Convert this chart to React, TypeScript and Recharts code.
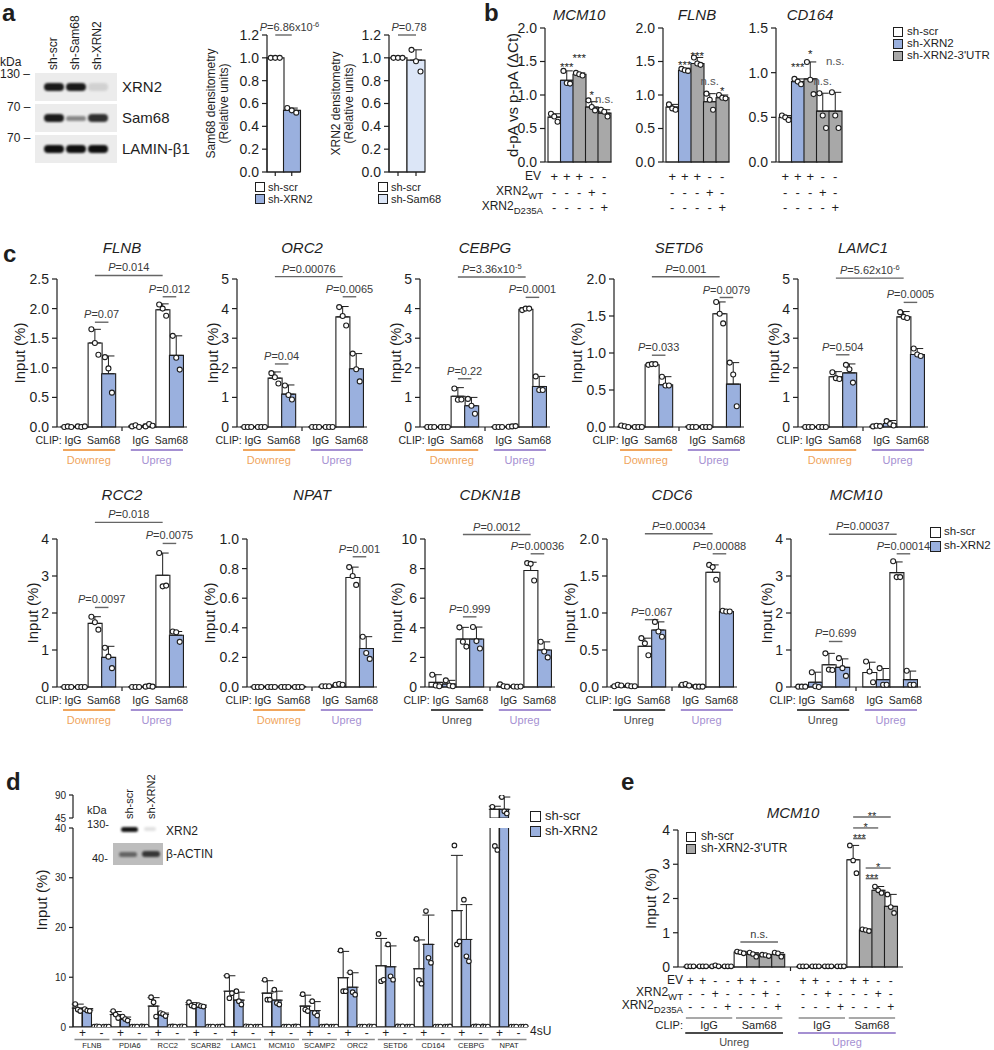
import React from 'react'
import { ComposedChart, Bar, Line, XAxis, YAxis, ErrorBar, Cell, ReferenceLine } from 'recharts'

const FONT = '"Liberation Sans", Arial, Helvetica, sans-serif'
const INK = '#1e1e1e'
const WHITE = '#ffffff'
const BLUE = '#9ab0de'
const PALE = '#dce6f7'
const GRAY = '#a8a8a8'
const ORANGE = '#f0a55c'
const PURPLE = '#a590d2'
const UNREG = '#4a4a4a'

type Num = number | null
type Ann = { a: number; b: number; y: number; t: string; dx?: number }

// ---------------- panel a ----------------
const aKeys = ['scr', 'kd']
const aTicks = [0, 0.2, 0.4, 0.6, 0.8, 1.0, 1.2]
const aSam68Mean = [1.0, 0.54]
const aSam68Cap: Num[] = [null, 0.56]
const aSam68Pts = [[1.0, 1.0, 1.0], [0.56, 0.54, 0.52]]
const aXrn2Mean = [1.0, 0.98]
const aXrn2Cap: Num[] = [null, 1.07]
const aXrn2Pts = [[1.0, 1.0, 1.0], [1.07, 0.97, 0.88]]
const blotLanes = ['sh-scr', 'sh-Sam68', 'sh-XRN2']
const blotRows = ['XRN2', 'Sam68', 'LAMIN-β1']
const blotDensity = [[0.95, 0.95, 0.12], [0.95, 0.45, 0.85], [1, 1, 1]]

// ---------------- panel b ----------------
const bKeys = ['scr', 'kd', 'utr', 'wt', 'mut']
const bFills = [WHITE, BLUE, GRAY, GRAY, GRAY]
const bEV = ['+', '+', '+', '-', '-']
const bWT = ['-', '-', '-', '+', '-']
const bMut = ['-', '-', '-', '-', '+']
const bMcm10Mean = [0.67, 1.22, 1.31, 0.82, 0.73]
const bMcm10Cap: Num[] = [0.72, 1.36, 1.33, 0.9, 0.78]
const bMcm10Pts = [[0.72, 0.68, 0.6], [1.36, 1.18, 1.17], [1.33, 1.31, 1.29], [0.92, 0.82, 0.77], [0.78, 0.75, 0.68]]
const bMcm10StarY: Num[] = [null, 1.47, 1.6, 1.04, 0.92]
const bMcm10Star = ['', '***', '***', '*', 'n.s.']
const bFlnbMean = [0.82, 1.37, 1.47, 0.9, 0.96]
const bFlnbCap: Num[] = [0.86, 1.4, 1.56, 1.02, 1.0]
const bFlnbPts = [[0.86, 0.8, 0.78], [1.39, 1.37, 1.36], [1.56, 1.47, 1.45], [1.02, 0.93, 0.78], [1.0, 0.96, 0.95]]
const bFlnbStarY: Num[] = [null, 1.5, 1.63, 1.2, 1.1]
const bFlnbStar = ['', '***', '***', 'n.s.', '*']
const bCd164Mean = [0.5, 0.9, 0.93, 0.57, 0.57]
const bCd164Cap: Num[] = [0.52, 0.93, 1.12, 0.77, 0.78]
const bCd164Pts = [[0.52, 0.5, 0.47], [0.93, 0.9, 0.87], [1.12, 0.92, 0.76], [0.77, 0.52, 0.38], [0.78, 0.52, 0.38]]
const bCd164StarY: Num[] = [null, 1.1, 1.24, 0.9, 1.12]
const bCd164Star = ['', '***', '*', 'n.s.', 'n.s.']

// ---------------- panel c ----------------
const cKeys = ['ig1s', 'ig1x', 'sm1s', 'sm1x', 'gap', 'ig2s', 'ig2x', 'sm2s', 'sm2x']
const cFills = [WHITE, BLUE, WHITE, BLUE, WHITE, WHITE, BLUE, WHITE, BLUE]
const Z = [0, 0, 0]

const cFlnbMean: Num[] = [0.01, 0.01, 1.42, 0.9, null, 0.02, 0.03, 1.98, 1.21]
const cFlnbCap: Num[] = [null, null, 1.65, 1.2, null, null, 0.05, 2.08, 1.54]
const cFlnbPts = [[0, 0.01, 0], [0.01, 0, 0.01], [1.65, 1.42, 1.22], [1.18, 0.99, 0.58], null, [0.01, 0.03, 0], [0.01, 0.05, 0.02], [2.07, 2.0, 1.88], [1.54, 1.17, 0.97]]
const cFlnbAnn: Ann[] = [{ a: 2, b: 7, y: 2.56, t: 'P=0.014' }, { a: 2, b: 3, y: 1.77, t: 'P=0.07' }, { a: 7, b: 8, y: 2.2, t: 'P=0.012' }]

const cOrc2Mean: Num[] = [0.01, 0.01, 1.65, 1.11, null, 0.01, 0.01, 3.72, 1.97]
const cOrc2Cap: Num[] = [null, null, 1.86, 1.42, null, null, null, 4.07, 2.48]
const cOrc2Pts = [Z, Z, [1.82, 1.68, 1.47], [1.4, 1.08, 0.93], null, Z, Z, [4.05, 3.75, 3.43], [2.48, 1.95, 1.54]]
const cOrc2Ann: Ann[] = [{ a: 2, b: 7, y: 5.08, t: 'P=0.00076' }, { a: 2, b: 3, y: 2.13, t: 'P=0.04' }, { a: 7, b: 8, y: 4.4, t: 'P=0.0065' }]

const cCebpgMean: Num[] = [0.01, 0.01, 1.04, 0.72, null, 0.01, 0.02, 3.98, 1.37]
const cCebpgCap: Num[] = [null, null, 1.33, 1.0, null, null, null, 4.03, 1.71]
const cCebpgPts = [Z, Z, [1.3, 0.92, 0.93], [0.95, 0.72, 0.45], null, Z, [0.01, 0.02, 0.03], [3.95, 4.0, 4.0], [1.71, 1.25, 1.25]]
const cCebpgAnn: Ann[] = [{ a: 2, b: 7, y: 5.07, t: 'P=3.36x10^-5' }, { a: 2, b: 3, y: 1.63, t: 'P=0.22' }, { a: 7, b: 8, y: 4.38, t: 'P=0.0001' }]

const cSetd6Mean: Num[] = [0.01, 0.01, 0.84, 0.57, null, 0.01, 0.01, 1.53, 0.58]
const cSetd6Cap: Num[] = [null, null, 0.86, 0.68, null, null, null, 1.69, 0.87]
const cSetd6Pts = [[0.02, 0.01, 0], Z, [0.84, 0.85, 0.85], [0.68, 0.56, 0.56], null, Z, Z, [1.69, 1.53, 1.4], [0.87, 0.71, 0.28]]
const cSetd6Ann: Ann[] = [{ a: 2, b: 7, y: 2.03, t: 'P=0.001' }, { a: 2, b: 3, y: 0.97, t: 'P=0.033' }, { a: 7, b: 8, y: 1.75, t: 'P=0.0079' }]

const cLamc1Mean: Num[] = [0.01, 0.01, 1.7, 1.83, null, 0.03, 0.12, 3.72, 2.45]
const cLamc1Cap: Num[] = [null, null, 1.87, 2.13, null, null, 0.22, 3.9, 2.65]
const cLamc1Pts = [Z, Z, [1.85, 1.65, 1.62], [2.1, 1.95, 1.5], null, [0.02, 0.04, 0.03], [0.2, 0.1, 0.05], [3.88, 3.72, 3.68], [2.65, 2.45, 2.4]]
const cLamc1Ann: Ann[] = [{ a: 2, b: 7, y: 5.03, t: 'P=5.62x10^-6' }, { a: 2, b: 3, y: 2.44, t: 'P=0.504' }, { a: 7, b: 8, y: 4.21, t: 'P=0.0005' }]

const cRcc2Mean: Num[] = [0.01, 0.01, 1.72, 0.8, null, 0.01, 0.02, 3.02, 1.4]
const cRcc2Cap: Num[] = [null, null, 1.9, 1.1, null, null, null, 3.62, 1.5]
const cRcc2Pts = [Z, Z, [1.9, 1.75, 1.55], [1.06, 0.82, 0.51], null, Z, [0.01, 0.03, 0.01], [3.62, 2.72, 2.74], [1.5, 1.48, 1.22]]
const cRcc2Ann: Ann[] = [{ a: 2, b: 7, y: 4.45, t: 'P=0.018' }, { a: 2, b: 3, y: 2.15, t: 'P=0.0097' }, { a: 7, b: 8, y: 3.88, t: 'P=0.0075' }]

const cNpatMean: Num[] = [0.004, 0.004, 0.004, 0.004, null, 0.005, 0.015, 0.74, 0.26]
const cNpatCap: Num[] = [null, null, null, null, null, null, null, 0.81, 0.34]
const cNpatPts = [Z, Z, Z, Z, null, [0.005, 0.005, 0.005], [0.015, 0.02, 0.015], [0.81, 0.75, 0.69], [0.34, 0.23, 0.19]]
const cNpatAnn: Ann[] = [{ a: 7, b: 8, y: 0.88, t: 'P=0.001' }]

const cCdkn1bMean: Num[] = [0.31, 0.2, 3.24, 3.24, null, 0.08, 0.03, 7.87, 2.5]
const cCdkn1bCap: Num[] = [0.83, 0.45, 4.03, 4.05, null, 0.18, null, 8.43, 3.05]
const cCdkn1bPts = [[0.83, 0.1, 0.05], [0.45, 0.1, 0.05], [4.03, 3.06, 2.73], [4.05, 3.1, 2.6], null, [0.18, 0.05, 0.02], [0.03, 0.02, 0.03], [8.37, 8.32, 7.2], [3.06, 2.4, 2.0]]
const cCdkn1bAnn: Ann[] = [{ a: 2, b: 7, y: 10.3, t: 'P=0.0012' }, { a: 2, b: 3, y: 4.74, t: 'P=0.999' }, { a: 7, b: 8, y: 9.0, t: 'P=0.00036' }]

const cCdc6Mean: Num[] = [0.02, 0.01, 0.55, 0.77, null, 0.03, 0.005, 1.55, 1.02]
const cCdc6Cap: Num[] = [null, null, 0.66, 0.88, null, null, null, 1.65, 1.03]
const cCdc6Pts = [[0.01, 0.03, 0.02], [0.02, 0.01, 0.01], [0.66, 0.59, 0.43], [0.88, 0.75, 0.68], null, [0.03, 0.04, 0.02], [0.005, 0.005, 0.005], [1.65, 1.62, 1.45], [1.03, 1.02, 1.02]]
const cCdc6Ann: Ann[] = [{ a: 2, b: 7, y: 2.07, t: 'P=0.00034' }, { a: 2, b: 3, y: 0.91, t: 'P=0.067' }, { a: 7, b: 8, y: 1.8, t: 'P=0.00088' }]

const cMcm10Mean: Num[] = [0.01, 0.13, 0.6, 0.53, null, 0.39, 0.2, 3.09, 0.2]
const cMcm10Cap: Num[] = [null, 0.4, 0.91, 0.76, null, 0.67, 0.5, 3.38, 0.43]
const cMcm10Pts = [[0.01, 0.01, 0.01], [0.4, 0.02, 0], [0.91, 0.47, 0.46], [0.78, 0.51, 0.3], null, [0.69, 0.42, 0.13], [0.51, 0.06, 0.06], [3.4, 2.97, 2.97], [0.44, 0.06, 0.06]]
const cMcm10Ann: Ann[] = [{ a: 2, b: 7, y: 4.13, t: 'P=0.00037' }, { a: 2, b: 3, y: 1.23, t: 'P=0.699' }, { a: 7, b: 8, y: 3.6, t: 'P=0.00014' }]

const t25 = [0, 0.5, 1, 1.5, 2, 2.5]
const t20 = [0, 0.5, 1, 1.5, 2]
const t5 = [0, 1, 2, 3, 4, 5]
const t4 = [0, 1, 2, 3, 4]
const t10 = [0, 2, 4, 6, 8, 10]
const t1 = [0, 0.2, 0.4, 0.6, 0.8, 1.0]

const cPanels = [
  { title: 'FLNB', ax: 57, row: 0, ticks: t25, dec: 1, mean: cFlnbMean, cap: cFlnbCap, pts: cFlnbPts, groups: ['Downreg', 'Upreg'], ann: cFlnbAnn },
  { title: 'ORC2', ax: 237, row: 0, ticks: t5, dec: 0, mean: cOrc2Mean, cap: cOrc2Cap, pts: cOrc2Pts, groups: ['Downreg', 'Upreg'], ann: cOrc2Ann },
  { title: 'CEBPG', ax: 420, row: 0, ticks: t5, dec: 0, mean: cCebpgMean, cap: cCebpgCap, pts: cCebpgPts, groups: ['Downreg', 'Upreg'], ann: cCebpgAnn },
  { title: 'SETD6', ax: 614, row: 0, ticks: t20, dec: 1, mean: cSetd6Mean, cap: cSetd6Cap, pts: cSetd6Pts, groups: ['Downreg', 'Upreg'], ann: cSetd6Ann },
  { title: 'LAMC1', ax: 798, row: 0, ticks: t5, dec: 0, mean: cLamc1Mean, cap: cLamc1Cap, pts: cLamc1Pts, groups: ['Downreg', 'Upreg'], ann: cLamc1Ann },
  { title: 'RCC2', ax: 57, row: 1, ticks: t4, dec: 0, mean: cRcc2Mean, cap: cRcc2Cap, pts: cRcc2Pts, groups: ['Downreg', 'Upreg'], ann: cRcc2Ann },
  { title: 'NPAT', ax: 247, row: 1, ticks: t1, dec: 1, mean: cNpatMean, cap: cNpatCap, pts: cNpatPts, groups: ['Downreg', 'Upreg'], ann: cNpatAnn },
  { title: 'CDKN1B', ax: 425, row: 1, ticks: t10, dec: 0, mean: cCdkn1bMean, cap: cCdkn1bCap, pts: cCdkn1bPts, groups: ['Unreg', 'Upreg'], ann: cCdkn1bAnn },
  { title: 'CDC6', ax: 607, row: 1, ticks: t20, dec: 1, mean: cCdc6Mean, cap: cCdc6Cap, pts: cCdc6Pts, groups: ['Unreg', 'Upreg'], ann: cCdc6Ann },
  { title: 'MCM10', ax: 791, row: 1, ticks: t4, dec: 0, mean: cMcm10Mean, cap: cMcm10Cap, pts: cMcm10Pts, groups: ['Unreg', 'Upreg'], ann: cMcm10Ann },
]

// ---------------- panel d ----------------
const dGenes = ['FLNB', 'PDIA6', 'RCC2', 'SCARB2', 'LAMC1', 'MCM10', 'SCAMP2', 'ORC2', 'SETD6', 'CD164', 'CEBPG', 'NPAT']
const dScrMean = [3.8, 2.5, 4.2, 4.5, 7.2, 6.8, 4.2, 9.9, 12.3, 11.7, 23.4, 62]
const dScrCap = [4.6, 3.1, 5.9, 4.9, 10.3, 9.3, 6.4, 15.2, 17.8, 17.5, 34.5, 68]
const dScrPts = [[4.6, 3.5, 3.2], [3.2, 2.5, 1.8], [6.0, 5.0, 2.1], [5.0, 4.3, 4.1], [10.3, 5.8, 6.8], [9.5, 5.5, 5.5], [6.6, 3.5, 3.2], [15.4, 7.2, 7.2], [18.7, 9.2, 9.5], [17.7, 9.5, 8.7], [36.5, 16.6, 17.2], [67, 36.4, 35.6]]
const dXrnMean = [3.4, 1.5, 2.5, 4.0, 5.4, 5.4, 3.3, 8.0, 12.1, 16.6, 17.6, 62]
const dXrnCap = [3.7, 2.0, 2.8, 4.4, 7.0, 7.2, 5.1, 10.9, 16.3, 22.5, 24.6, 86]
const dXrnPts = [[3.6, 3.3, 3.2], [2.1, 1.6, 1.3], [2.8, 2.6, 2.2], [4.4, 4.2, 4.1], [7.2, 5.2, 4.5], [7.5, 4.8, 4.5], [5.2, 2.8, 2.3], [11.0, 7.0, 6.5], [16.6, 10.2, 9.5], [23.3, 13.9, 12.9], [25.6, 14.2, 13.2], [86, 58, 54]]
const dMinusScr = [0.12, 0.1, 0.1, 0.1, 0.12, 0.1, 0.1, 0.1, 0.12, 0.1, 0.1, 0.1]
const dMinusXrn = [0.1, 0.1, 0.12, 0.1, 0.1, 0.1, 0.1, 0.12, 0.1, 0.1, 0.12, 0.1]
const dMinusScrPts = [[0.1, 0.15, 0.1], [0.1, 0.1, 0.1], [0.1, 0.12, 0.1], [0.1, 0.1, 0.1], [0.15, 0.1, 0.1], [0.1, 0.1, 0.1], [0.1, 0.1, 0.12], [0.1, 0.1, 0.1], [0.12, 0.1, 0.15], [0.1, 0.1, 0.1], [0.1, 0.12, 0.1], [0.1, 0.1, 0.1]]
const dMinusXrnPts = [[0.1, 0.1, 0.1], [0.12, 0.1, 0.1], [0.1, 0.15, 0.1], [0.1, 0.1, 0.12], [0.1, 0.1, 0.1], [0.1, 0.12, 0.1], [0.1, 0.1, 0.1], [0.15, 0.1, 0.1], [0.1, 0.1, 0.1], [0.1, 0.1, 0.12], [0.12, 0.1, 0.1], [0.1, 0.1, 0.1]]
const dLowTicks = [0, 10, 20, 30, 40]
const dHighTicks = [45, 90]
const dBreakLow = 40
const dBreakHigh = 45

// ---------------- panel e ----------------
const eKeys = ['u0', 'u1', 'u2', 'u3', 'u4', 'u5', 'u6', 'u7', 'gap', 'p0', 'p1', 'p2', 'p3', 'p4', 'p5', 'p6', 'p7']
const eFills = [WHITE, GRAY, GRAY, GRAY, WHITE, GRAY, GRAY, GRAY, WHITE, WHITE, GRAY, GRAY, GRAY, WHITE, GRAY, GRAY, GRAY]
const eEV = ['+', '+', '-', '-', '+', '+', '-', '-', '', '+', '+', '-', '-', '+', '+', '-', '-']
const eWT = ['-', '-', '+', '-', '-', '-', '+', '-', '', '-', '-', '+', '-', '-', '-', '+', '-']
const eMut = ['-', '-', '-', '+', '-', '-', '-', '+', '', '-', '-', '-', '+', '-', '-', '-', '+']
const eMean: Num[] = [0.02, 0.02, 0.02, 0.02, 0.44, 0.38, 0.34, 0.37, null, 0.02, 0.02, 0.02, 0.02, 3.13, 1.08, 2.24, 1.77]
const eCap: Num[] = [null, null, null, null, 0.46, 0.42, 0.36, 0.42, null, null, null, null, null, 3.55, 1.11, 2.35, 2.12]
const ePts = [[0.02, 0.02, 0.02], [0.02, 0.02, 0.02], [0.02, 0.05, 0.02], [0.02, 0.02, 0.02], [0.45, 0.43, 0.4], [0.42, 0.38, 0.3], [0.36, 0.35, 0.32], [0.42, 0.4, 0.3], null, [0.02, 0.02, 0.02], [0.02, 0.02, 0.02], [0.02, 0.02, 0.02], [0.02, 0.02, 0.02], [3.55, 3.11, 2.74], [1.1, 1.08, 1.05], [2.35, 2.24, 2.16], [2.12, 1.75, 1.58]]
const eAnn: Ann[] = [
  { a: 13, b: 16, y: 4.38, t: '**' },
  { a: 13, b: 15, y: 4.06, t: '*' },
  { a: 13, b: 14, y: 3.75, t: '***' },
  { a: 14, b: 16, y: 2.89, t: '*' },
  { a: 14, b: 15, y: 2.58, t: '***' },
  { a: 4, b: 7, y: 0.73, t: 'n.s.' },
]

const GROUP_COLORS: Record<string, string> = { Downreg: ORANGE, Upreg: PURPLE, Unreg: UNREG }

// ---------------- helpers ----------------
const Txt = ({ x, y, anchor = 'start', fs = 12, italic, bold, color = INK, children }: any) => {
  const tx = anchor === 'middle' ? '-50%' : anchor === 'end' ? '-100%' : '0'
  return (
    <div style={{ position: 'absolute', left: x, top: y, transform: `translate(${tx}, -50%)`, fontSize: fs, fontStyle: italic ? 'italic' : 'normal', fontWeight: bold ? 700 : 400, color, fontFamily: FONT, whiteSpace: 'nowrap', lineHeight: 1.15 }}>
      {children}
    </div>
  )
}

// rotated text; (x, y) is the centre
const RTxt = ({ x, y, fs = 12, children }: any) => (
  <div style={{ position: 'absolute', left: x, top: y, transform: 'translate(-50%, -50%) rotate(-90deg)', fontSize: fs, color: INK, fontFamily: FONT, whiteSpace: 'nowrap', lineHeight: 1.15 }}>
    {children}
  </div>
)

// rotated text starting at the bottom (x centre, y bottom)
const VTxt = ({ x, y, fs = 12, children }: any) => (
  <div style={{ position: 'absolute', left: x, top: y, transformOrigin: '0 0', transform: 'rotate(-90deg) translateY(-50%)', fontSize: fs, color: INK, fontFamily: FONT, whiteSpace: 'nowrap', lineHeight: 1.15 }}>
    {children}
  </div>
)

const Sq = ({ x, y, fill, s = 10 }: any) => (
  <div style={{ position: 'absolute', left: x, top: y - s / 2, width: s, height: s, boxSizing: 'border-box', border: `1.2px solid ${INK}`, background: fill }} />
)

const Xrn = ({ sub, fs }: { sub: string; fs: number }) => (
  <span>XRN2<span style={{ fontSize: fs * 0.8, position: 'relative', top: fs * 0.3 }}>{sub}</span></span>
)

const ptDot = (dx: number, r: number) => (props: any) => {
  const { cx, cy, index } = props
  const key = `pt${dx}-${index}`
  if (cy == null || cx == null || Number.isNaN(cy)) return <g key={key} />
  return <circle key={key} cx={cx + dx} cy={cy} r={r} fill="#fff" stroke={INK} strokeWidth={1.1} />
}

const starLabel = (texts: string[], fs = 11.5) => (lp: any) => {
  const t = texts[lp.index]
  if (!t || lp.y == null || lp.value == null) return <g key={`st${lp.index}`} />
  const isStar = t.includes('*')
  return (
    <text key={`st${lp.index}`} x={lp.x} y={lp.y + (isStar ? 7 : 3)} textAnchor="middle" fontSize={fs} fill={isStar ? INK : '#555'} fontFamily={FONT}>
      {t}
    </text>
  )
}

const AnnText = ({ vb, t, fs, dx = 0 }: { vb: any; t: string; fs: number; dx?: number }) => {
  if (!vb) return null
  const cx = vb.x + (vb.width || 0) / 2 + dx
  const isP = t.startsWith('P')
  const isStar = t.includes('*')
  const y = vb.y + (isStar ? 3 : -4)
  const body = isP ? t.slice(1) : t
  const [main, sup] = body.split('^')
  return (
    <text x={cx} y={y} textAnchor="middle" fontSize={fs} fill={isStar ? INK : '#3a3a3a'} fontFamily={FONT}>
      {isP ? <tspan fontStyle="italic">P</tspan> : null}
      <tspan>{main}</tspan>
      {sup ? <tspan dy={-4} fontSize={fs - 3.5}>{sup}</tspan> : null}
    </text>
  )
}

const emptyTick = () => <g />

interface BarsProps {
  x: number; y: number; w: number; h: number
  mt: number; mr?: number; mb?: number
  yw: number; xh: number; pad: [number, number]
  keys: string[]; mean: Num[]; cap: Num[]; pts: (number[] | null)[]; fills: string[]
  domain: [number, number]; ticks: number[]; dec?: number; tickFs?: number; tickSize?: number
  yLabel?: (vb: any) => React.ReactNode
  xTick?: (p: any) => React.ReactNode
  xTickLine?: boolean
  ann?: Ann[]; annFs?: number
  starY?: Num[]; starT?: string[]
  offs?: number[]; r?: number
  clip?: boolean; hideX?: boolean
}

function Bars(p: BarsProps) {
  const data = p.keys.map((k, i) => {
    const v = p.mean[i]
    const c = p.cap[i]
    const q = p.pts[i]
    return {
      k,
      v,
      e: v != null && c != null ? [0, c - v] : null,
      p0: q ? q[0] : null,
      p1: q ? q[1] : null,
      p2: q ? q[2] : null,
      s: p.starY ? p.starY[i] : null,
    }
  })
  const offs = p.offs ?? [-3.5, 0, 3.5]
  const r = p.r ?? 2.5
  const axisStyle = { stroke: INK, strokeWidth: 1.2 }
  return (
    <div style={{ position: 'absolute', left: p.x, top: p.y }}>
      <ComposedChart width={p.w} height={p.h} data={data} margin={{ top: p.mt, right: p.mr ?? 4, bottom: p.mb ?? 0, left: 0 }} barCategoryGap={0} barGap={0}>
        <XAxis
          dataKey="k"
          type="category"
          interval={0}
          height={p.xh}
          hide={p.hideX}
          padding={{ left: p.pad[0], right: p.pad[1] }}
          axisLine={axisStyle}
          tickLine={p.xTickLine ? axisStyle : false}
          tickSize={p.xTickLine ? 4 : 0}
          tickMargin={0}
          tick={p.xTick ?? emptyTick}
        />
        <YAxis
          type="number"
          domain={p.domain}
          ticks={p.ticks}
          interval={0}
          width={p.yw}
          allowDataOverflow={!!p.clip}
          axisLine={axisStyle}
          tickLine={axisStyle}
          tickSize={p.tickSize ?? 5}
          tickMargin={3}
          tick={{ fontSize: p.tickFs ?? 14, fill: INK, fontFamily: FONT }}
          tickFormatter={(v: number) => (p.dec ? v.toFixed(p.dec) : String(v))}
          label={p.yLabel ? (lp: any) => p.yLabel!(lp.viewBox) : undefined}
        />
        <Bar dataKey="v" isAnimationActive={false} stroke={INK} strokeWidth={1.1}>
          {data.map((_, i) => (
            <Cell key={`c${i}`} fill={p.fills[i]} />
          ))}
        </Bar>
        {/* error bars hang on an invisible line through the bar tops */}
        <Line dataKey="v" stroke="none" dot={false} activeDot={false} isAnimationActive={false} legendType="none">
          <ErrorBar dataKey="e" width={6} stroke={INK} strokeWidth={1} direction="y" />
        </Line>
        {['p0', 'p1', 'p2'].map((dk, j) => (
          <Line key={dk} dataKey={dk} stroke="none" dot={ptDot(offs[j], r)} activeDot={false} isAnimationActive={false} legendType="none" />
        ))}
        {p.starY ? (
          <Line dataKey="s" stroke="none" dot={false} activeDot={false} isAnimationActive={false} legendType="none" label={starLabel(p.starT ?? [])} />
        ) : null}
        {(p.ann ?? []).map((an, i) => (
          <ReferenceLine
            key={`an${i}`}
            segment={[{ x: p.keys[an.a], y: an.y }, { x: p.keys[an.b], y: an.y }]}
            stroke="#666"
            strokeWidth={1.4}
            ifOverflow="visible"
            label={(lp: any) => <AnnText vb={lp.viewBox} t={an.t} fs={p.annFs ?? 11} dx={an.dx} />}
          />
        ))}
      </ComposedChart>
    </div>
  )
}

const rotLabel = (text: string, dist: number, fs = 15) => (vb: any) => {
  if (!vb) return null
  const x = vb.x + vb.width - dist
  const y = vb.y + vb.height / 2
  return (
    <text transform={`translate(${x},${y}) rotate(-90)`} textAnchor="middle" dominantBaseline="central" fontSize={fs} fill={INK} fontFamily={FONT}>
      {text}
    </text>
  )
}

const twoLineLabel = (l1: string, l2: string, d1: number, d2: number) => (vb: any) => {
  if (!vb) return null
  const ax = vb.x + vb.width
  const y = vb.y + vb.height / 2
  return (
    <g>
      <text transform={`translate(${ax - d1},${y}) rotate(-90)`} textAnchor="middle" dominantBaseline="central" fontSize={12} fill={INK} fontFamily={FONT}>{l1}</text>
      <text transform={`translate(${ax - d2},${y}) rotate(-90)`} textAnchor="middle" dominantBaseline="central" fontSize={12} fill={INK} fontFamily={FONT}>{l2}</text>
    </g>
  )
}

// ---------------- panels ----------------
function PanelA() {
  const stripTops = [73, 104, 135]
  const laneX = [54, 76, 98]
  return (
    <>
      <Txt x={2} y={13} fs={24} bold>a</Txt>
      {blotLanes.map((l, i) => (
        <VTxt key={l} x={laneX[i]} y={70} fs={12}>{l}</VTxt>
      ))}
      <Txt x={0} y={63} fs={12}>kDa</Txt>
      <Txt x={0} y={75} fs={12}>130 –</Txt>
      <Txt x={7} y={108} fs={12}>70 –</Txt>
      <Txt x={7} y={139} fs={12}>70 –</Txt>
      {blotRows.map((row, r) => (
        <React.Fragment key={row}>
          <div style={{ position: 'absolute', left: 35, top: stripTops[r], width: 82, height: 28, background: '#ececec' }} />
          {laneX.map((lx, i) => (
            <div key={i} style={{ position: 'absolute', left: lx - 10, top: stripTops[r] + 10, width: 20, height: r === 1 && i === 1 ? 5 : 8, marginTop: r === 1 && i === 1 ? 1.5 : 0, borderRadius: 4, background: `rgba(15,15,15,${blotDensity[r][i]})`, filter: 'blur(1.2px)' }} />
          ))}
          <Txt x={122} y={stripTops[r] + 14} fs={15}>{row}</Txt>
        </React.Fragment>
      ))}
      <Bars
        x={201} y={0} w={103} h={182} mt={35} yw={66} xh={10} pad={[0, 0]}
        keys={aKeys} mean={aSam68Mean} cap={aSam68Cap} pts={aSam68Pts} fills={[WHITE, BLUE]}
        domain={[0, 1.2]} ticks={aTicks} dec={1} xTickLine offs={[-4.5, 0, 4.5]}
        yLabel={twoLineLabel('Sam68 densitometry', '(Relative units)', 56, 43)}
        ann={[{ a: 0, b: 1, y: 1.2, t: 'P=6.86x10^-6', dx: 6 }]}
      />
      <Bars
        x={323} y={0} w={106} h={182} mt={35} yw={66} xh={10} pad={[0, 0]}
        keys={aKeys} mean={aXrn2Mean} cap={aXrn2Cap} pts={aXrn2Pts} fills={[WHITE, PALE]}
        domain={[0, 1.2]} ticks={aTicks} dec={1} xTickLine offs={[-4.5, 0, 4.5]}
        yLabel={twoLineLabel('XRN2 densitometry', '(Relative units)', 53, 40)}
        ann={[{ a: 0, b: 1, y: 1.2, t: 'P=0.78', dx: 2 }]}
      />
      <Sq x={255} y={187} fill={WHITE} />
      <Sq x={255} y={199} fill={BLUE} />
      <Txt x={268} y={187} fs={11}>sh-scr</Txt>
      <Txt x={268} y={199} fs={11}>sh-XRN2</Txt>
      <Sq x={378} y={187} fill={WHITE} />
      <Sq x={378} y={199} fill={PALE} />
      <Txt x={391} y={187} fs={11}>sh-scr</Txt>
      <Txt x={391} y={199} fs={11}>sh-Sam68</Txt>
    </>
  )
}

const bTick = (p: any) => {
  const { x, y, index } = p
  const ts = { fontSize: 13, fill: INK, fontFamily: FONT, textAnchor: 'middle' as const }
  return (
    <g>
      <text x={x} y={y + 19} {...ts}>{bEV[index]}</text>
      <text x={x} y={y + 35} {...ts}>{bWT[index]}</text>
      <text x={x} y={y + 50} {...ts}>{bMut[index]}</text>
    </g>
  )
}

function PanelB() {
  const charts = [
    { title: 'MCM10', ax: 545, max: 2, ticks: t20, mean: bMcm10Mean, cap: bMcm10Cap, pts: bMcm10Pts, sy: bMcm10StarY, st: bMcm10Star },
    { title: 'FLNB', ax: 663, max: 2, ticks: t20, mean: bFlnbMean, cap: bFlnbCap, pts: bFlnbPts, sy: bFlnbStarY, st: bFlnbStar },
    { title: 'CD164', ax: 776, max: 1.5, ticks: [0, 0.5, 1, 1.5], mean: bCd164Mean, cap: bCd164Cap, pts: bCd164Pts, sy: bCd164StarY, st: bCd164Star },
  ]
  return (
    <>
      <Txt x={484} y={13} fs={24} bold>b</Txt>
      {charts.map((c, i) => (
        <React.Fragment key={c.title}>
          <Txt x={c.ax + 34} y={15} fs={15} italic anchor="middle">{c.title}</Txt>
          <Bars
            x={c.ax - 44} y={0} w={114.5} h={217} mt={28} yw={44} xh={55} pad={[3, 1]}
            keys={bKeys} mean={c.mean} cap={c.cap} pts={c.pts} fills={bFills}
            domain={[0, c.max]} ticks={c.ticks} dec={1} xTick={bTick}
            starY={c.sy} starT={c.st} offs={[-3.3, 0, 3.3]}
            yLabel={i === 0 ? rotLabel('d-pA vs p-pA (ΔCt)', 33) : undefined}
          />
        </React.Fragment>
      ))}
      <Txt x={541} y={177} fs={12} anchor="end">EV</Txt>
      <Txt x={543} y={192} fs={12} anchor="end"><Xrn sub="WT" fs={12} /></Txt>
      <Txt x={543} y={207} fs={12} anchor="end"><Xrn sub="D235A" fs={12} /></Txt>
      <Sq x={893} y={32} fill={WHITE} />
      <Sq x={893} y={44} fill={BLUE} />
      <Sq x={893} y={56} fill={GRAY} />
      <Txt x={907} y={32} fs={11.5}>sh-scr</Txt>
      <Txt x={907} y={44} fs={11.5}>sh-XRN2</Txt>
      <Txt x={907} y={56} fs={11.5}>sh-XRN2-3'UTR</Txt>
    </>
  )
}

const clipTick = (slot: number, groups: string[]) => (p: any) => {
  const { x, y, index } = p
  const ts = { fontSize: 10.5, fill: INK, fontFamily: FONT }
  const out: React.ReactNode[] = []
  if (index === 0) out.push(<text key="clip" x={x - 6} y={y + 17} textAnchor="end" {...ts}>CLIP:</text>)
  if (index === 1 || index === 6) out.push(<text key="igg" x={x - slot / 2 - 1.5} y={y + 17} textAnchor="middle" {...ts}>IgG</text>)
  if (index === 3 || index === 8) out.push(<text key="sam" x={x - slot / 2 + 2} y={y + 17} textAnchor="middle" {...ts}>Sam68</text>)
  if (index === 0 || index === 5) {
    const g = groups[index === 0 ? 0 : 1]
    const col = GROUP_COLORS[g]
    out.push(<line key="ul" x1={x - slot * 0.35} x2={x + slot * 3.5} y1={y + 23} y2={y + 23} stroke={col} strokeWidth={2} />)
    out.push(<text key="gl" x={x + slot * 1.55} y={y + 37} textAnchor="middle" fontSize={11} fill={col} fontFamily={FONT}>{g}</text>)
  }
  if (index === 4) out.push(<line key="brk" x1={x} x2={x} y1={y} y2={y + 4} stroke={INK} strokeWidth={1.2} />)
  return <g>{out}</g>
}

function PanelC() {
  const W = 186, YW = 50, MR = 6, MT = 36, PH = 148, XH = 45
  const slot = (W - YW - MR - 8) / 9
  return (
    <>
      <Txt x={3} y={254} fs={24} bold>c</Txt>
      {cPanels.map((c) => {
        const max = c.ticks[c.ticks.length - 1]
        const top = c.row === 0 ? 279 - MT : 539 - MT
        const dist = c.dec ? 38 : max >= 10 ? 29 : 25
        return (
          <React.Fragment key={c.title}>
            <Txt x={c.ax + 65} y={c.row === 0 ? 248 : 495} fs={15} italic anchor="middle">{c.title}</Txt>
            <Bars
              x={c.ax - YW} y={top} w={W} h={MT + PH + XH} mt={MT} mr={MR} yw={YW} xh={XH} pad={[4, 4]}
              keys={cKeys} mean={c.mean} cap={c.cap} pts={c.pts} fills={cFills}
              domain={[0, max]} ticks={c.ticks} dec={c.dec} xTick={clipTick(slot, c.groups)}
              ann={c.ann} yLabel={rotLabel('Input (%)', dist)}
            />
          </React.Fragment>
        )
      })}
      <Sq x={930} y={532} fill={WHITE} s={11} />
      <Sq x={930} y={546} fill={BLUE} s={11} />
      <Txt x={944} y={532} fs={11.5}>sh-scr</Txt>
      <Txt x={944} y={546} fs={11.5}>sh-XRN2</Txt>
    </>
  )
}

const dTick = (slot: number) => (p: any) => {
  const { x, y, index } = p
  const j = index % 4
  const g = dGenes[Math.floor(index / 4)]
  const out: React.ReactNode[] = []
  if (j === 0 || j === 2) out.push(<text key="s" x={x + slot / 2} y={y + 10} textAnchor="middle" fontSize={12} fill={INK} fontFamily={FONT}>{j === 0 ? '+' : '-'}</text>)
  if (j === 0) {
    out.push(<line key="u" x1={x - slot / 2 + 1.5} x2={x + slot * 3.5 - 1.5} y1={y + 12.5} y2={y + 12.5} stroke="#8a8a8a" strokeWidth={1.5} />)
    out.push(<text key="g" x={x + slot * 1.5} y={y + 20.5} textAnchor="middle" fontSize={7.5} fill={INK} fontFamily={FONT}>{g}</text>)
  }
  return <g>{out}</g>
}

function PanelD() {
  const keys = dGenes.flatMap((g) => [`${g}+s`, `${g}+x`, `${g}-s`, `${g}-x`])
  const mean = dGenes.flatMap((_, i) => [dScrMean[i], dXrnMean[i], dMinusScr[i], dMinusXrn[i]])
  const cap: Num[] = dGenes.flatMap((_, i) => [dScrCap[i], dXrnCap[i], null, null])
  const pts = dGenes.flatMap((_, i) => [dScrPts[i], dXrnPts[i], dMinusScrPts[i], dMinusXrnPts[i]])
  const fills = keys.map((k) => (k.endsWith('s') ? WHITE : BLUE))
  // split the series over the two segments of the broken axis
  const upMean = mean.map((v) => (v != null && v >= dBreakHigh ? v : null))
  const upCap = cap.map((c, i) => (upMean[i] != null ? c : null))
  const upPts = pts.map((q) => (q.some((v) => v >= dBreakHigh) ? q.map((v) => (v >= dBreakHigh ? v : NaN)) : null))
  const lowCap = cap.map((c, i) => (mean[i] != null && (mean[i] as number) <= dBreakLow ? c : null))
  const lowPts = pts.map((q) => q.map((v) => (v <= dBreakLow ? v : NaN)))
  const slot = 455 / 48
  return (
    <>
      <Txt x={6} y={782} fs={24} bold>d</Txt>
      <RTxt x={42} y={900} fs={15}>Input (%)</RTxt>
      <Bars
        x={33} y={791} w={499} h={29} mt={4} mb={2} yw={40} xh={0} pad={[0, 0]} hideX
        keys={keys} mean={upMean} cap={upCap} pts={upPts as any} fills={fills}
        domain={[dBreakHigh, 90]} ticks={dHighTicks} tickFs={10} tickSize={4} clip offs={[-2.5, 0, 2.5]} r={2.3}
      />
      <Bars
        x={33} y={824} w={499} h={233} mt={4} yw={40} xh={30} pad={[0, 0]}
        keys={keys} mean={mean} cap={lowCap} pts={lowPts} fills={fills}
        domain={[0, dBreakLow]} ticks={dLowTicks} tickFs={10} tickSize={4} clip offs={[-2.5, 0, 2.5]} r={2.3}
        xTick={dTick(slot)}
      />
      <Txt x={530} y={1032} fs={12}>4sU</Txt>
      {/* inset blot */}
      <Txt x={87} y={810} fs={11}>kDa</Txt>
      <Txt x={87} y={824} fs={11}>130-</Txt>
      <Txt x={92} y={858} fs={11}>40-</Txt>
      <VTxt x={129} y={819} fs={11}>sh-scr</VTxt>
      <VTxt x={151} y={819} fs={11}>sh-XRN2</VTxt>
      <div style={{ position: 'absolute', left: 121, top: 827, width: 17, height: 5, borderRadius: 3, background: 'rgba(10,10,10,0.95)', filter: 'blur(0.8px)' }} />
      <div style={{ position: 'absolute', left: 144, top: 827, width: 12, height: 4, borderRadius: 3, background: 'rgba(10,10,10,0.12)', filter: 'blur(1px)' }} />
      <div style={{ position: 'absolute', left: 113, top: 843, width: 50, height: 22, background: '#bdbdbd' }} />
      <div style={{ position: 'absolute', left: 119, top: 852, width: 18, height: 5, borderRadius: 3, background: 'rgba(40,40,40,0.6)', filter: 'blur(1px)' }} />
      <div style={{ position: 'absolute', left: 142, top: 851, width: 18, height: 6, borderRadius: 3, background: 'rgba(20,20,20,0.8)', filter: 'blur(1px)' }} />
      <Txt x={166} y={832} fs={12}>XRN2</Txt>
      <Txt x={166} y={855} fs={12}>β-ACTIN</Txt>
      <Sq x={530} y={816} fill={WHITE} s={11} />
      <Sq x={530} y={831} fill={BLUE} s={11} />
      <Txt x={545} y={816} fs={13}>sh-scr</Txt>
      <Txt x={545} y={831} fs={13}>sh-XRN2</Txt>
    </>
  )
}

const eTick = (slot: number) => (p: any) => {
  const { x, y, index } = p
  const out: React.ReactNode[] = []
  const ts = { fontSize: 12, fill: INK, fontFamily: FONT, textAnchor: 'middle' as const }
  if (index === 8) return <g><line x1={x} x2={x} y1={y} y2={y + 4} stroke={INK} strokeWidth={1.2} /></g>
  out.push(<text key="ev" x={x} y={y + 18} {...ts}>{eEV[index]}</text>)
  out.push(<text key="wt" x={x} y={y + 31} {...ts}>{eWT[index]}</text>)
  out.push(<text key="mu" x={x} y={y + 44} {...ts}>{eMut[index]}</text>)
  if (index === 0 || index === 4 || index === 9 || index === 13) {
    out.push(<line key="su" x1={x - slot * 0.35} x2={x + slot * 3.35} y1={y + 51} y2={y + 51} stroke="#555" strokeWidth={1.2} />)
    out.push(<text key="sl" x={x + slot * 1.5} y={y + 62} textAnchor="middle" fontSize={11} fill={INK} fontFamily={FONT}>{index === 0 || index === 9 ? 'IgG' : 'Sam68'}</text>)
  }
  if (index === 0 || index === 9) {
    const g = index === 0 ? 'Unreg' : 'Upreg'
    const col = GROUP_COLORS[g]
    out.push(<line key="gu" x1={x - slot * 0.4} x2={x + slot * 7.4} y1={y + 66} y2={y + 66} stroke={col} strokeWidth={2} />)
    out.push(<text key="gl" x={x + slot * 3.5} y={y + 79} textAnchor="middle" fontSize={11} fill={col} fontFamily={FONT}>{g}</text>)
  }
  return <g>{out}</g>
}

function PanelE() {
  const slot = (225 - 12) / 17
  return (
    <>
      <Txt x={621} y={782} fs={24} bold>e</Txt>
      <Txt x={793} y={813} fs={15} italic anchor="middle">MCM10</Txt>
      <Bars
        x={638} y={810} w={269} h={242} mt={20} yw={40} xh={85} pad={[6, 6]}
        keys={eKeys} mean={eMean} cap={eCap} pts={ePts} fills={eFills}
        domain={[0, 4]} ticks={t4} xTick={eTick(slot)} ann={eAnn} offs={[-3.3, 0, 3.3]} r={2.3}
        yLabel={rotLabel('Input (%)', 28)}
      />
      <Sq x={686} y={837} fill={WHITE} />
      <Sq x={686} y={849} fill={GRAY} />
      <Txt x={701} y={837} fs={12}>sh-scr</Txt>
      <Txt x={701} y={849} fs={12}>sh-XRN2-3'UTR</Txt>
      <Txt x={683} y={981} fs={12} anchor="end">EV</Txt>
      <Txt x={683} y={993} fs={12} anchor="end"><Xrn sub="WT" fs={12} /></Txt>
      <Txt x={683} y={1006} fs={12} anchor="end"><Xrn sub="D235A" fs={12} /></Txt>
      <Txt x={683} y={1025} fs={11} anchor="end">CLIP:</Txt>
    </>
  )
}

export default function App() {
  return (
    <div style={{ position: 'absolute', left: 0, top: 0, width: 994, height: 1050, overflow: 'hidden', background: '#fff', fontFamily: FONT }}>
      <style>{'.recharts-surface{overflow:visible}'}</style>
      <PanelA />
      <PanelB />
      <PanelC />
      <PanelD />
      <PanelE />
    </div>
  )
}
